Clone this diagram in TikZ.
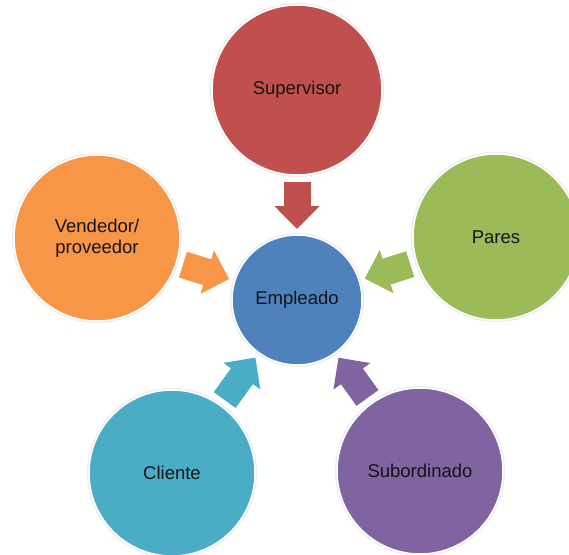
\documentclass[tikz,border=0pt]{standalone}
\usepackage{fontspec}
\setmainfont{Liberation Sans}
\usetikzlibrary{arrows.meta}
\definecolor{empblue}{HTML}{4F81BD}
\definecolor{supred}{HTML}{C0504D}
\definecolor{pargreen}{HTML}{9BBB59}
\definecolor{subpurple}{HTML}{8064A2}
\definecolor{cliteal}{HTML}{4BACC6}
\definecolor{venorange}{HTML}{F79646}
\begin{document}
\begin{tikzpicture}[x=1pt,y=-1pt,
  role/.style={circle, fill=#1, draw=white, line width=1.5pt,
    preaction={draw=black!7, line width=4pt},
    inner sep=0pt, outer sep=0pt, text=black!92, align=center,
    font=\fontsize{18.5}{21}\selectfont},
  flow/.style={draw=#1, line width=27pt,
    -{Triangle[width=44pt,length=23pt]},
    shorten <=7pt, shorten >=6pt}
]
\useasboundingbox[fill=white] (0,0) rectangle (569,554);
\clip (0,0) rectangle (569,554);

% centre and surrounding roles
\node[role=empblue, minimum size=130pt] (emp) at (297,300) {Empleado};
\node[role=supred, minimum size=170pt] (sup) at (297,90) {Supervisor};
\node[role=pargreen, minimum size=166pt] (par) at (496,237) {Pares};
\node[role=subpurple, minimum size=166pt] (sub) at (420,471) {Subordinado};
\node[role=cliteal, minimum size=166pt] (cli) at (172,473) {Cliente};
\node[role=venorange, minimum size=166pt] (ven) at (97,238) {Vendedor/\\proveedor};

% block arrows pointing at the centre
\draw[flow=supred] (sup) -- (emp);
\draw[flow=pargreen] (par) -- (emp);
\draw[flow=subpurple] (sub) -- (emp);
\draw[flow=cliteal] (cli) -- (emp);
\draw[flow=venorange] (ven) -- (emp);
\end{tikzpicture}
\end{document}
